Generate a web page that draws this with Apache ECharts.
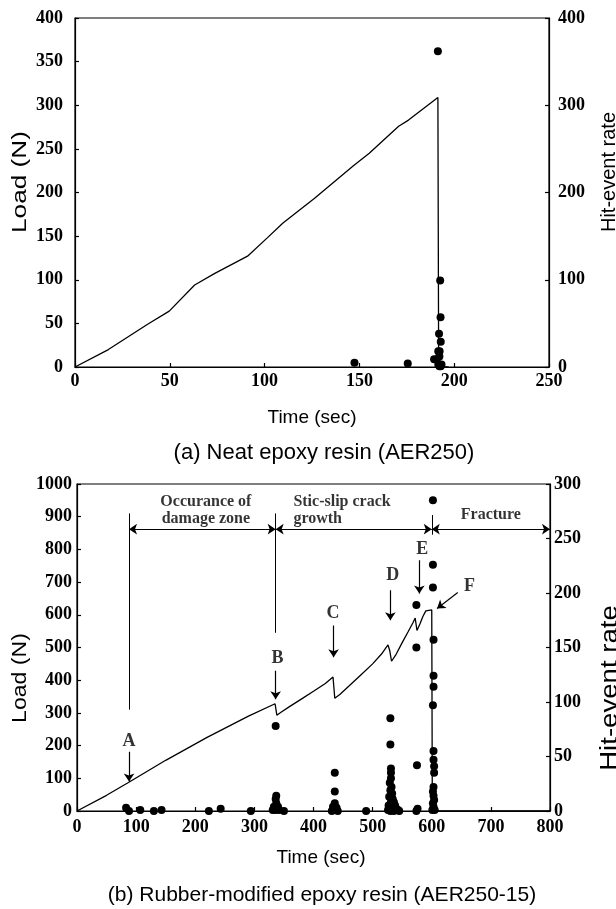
<!DOCTYPE html>
<html><head><meta charset="utf-8">
<script src="https://cdn.jsdelivr.net/npm/echarts@6/dist/echarts.min.js"></script>
<style>html,body{margin:0;padding:0;background:#fff}#c{width:616px;height:909px}</style>
</head><body><div id="c"></div>
<script>
// ---------- Data: (a) Neat epoxy resin (AER250) ----------
const timeA = [0, 17.6, 38.3, 49.7, 63.1, 73.5, 91, 101.4, 109.7, 126.2, 147, 155.2, 170.7, 175.9, 191.4, 191.8, 197];
const loadA = [0, 20, 49, 64, 94, 107, 127, 148, 165, 193, 231, 245, 276, 283, 309, 0, 0];
const hitTimeA = [147.4, 175.5, 189.4, 190.8, 191.4, 191.6, 192.3, 192.0, 192.6, 192.8, 192.9, 192.2, 193.3, 191.6, 192.9, 192.2];
const hitA     = [5, 4, 9, 9, 362, 18, 18, 38, 99, 57, 29, 12, 3, 3, 1, 1];

// ---------- Data: (b) Rubber-modified epoxy resin (AER250-15) ----------
const timeB = [0, 50, 87, 150, 220, 290, 335, 338, 345, 360, 380, 400, 420, 433, 436, 445, 460, 480, 500, 515, 526, 529, 532, 540, 550, 560, 568, 572, 575, 580, 585, 590, 600, 601, 800];
const loadB = [0, 48, 87, 155, 225, 290, 328, 293, 302, 320, 343, 366, 390, 410, 345, 357, 382, 416, 450, 480, 508, 490, 458, 480, 515, 548, 575, 590, 552, 572, 595, 612, 615, 0, 0];
const hitTimeB = [83, 88, 107, 130, 143, 223, 243, 294,
  336, 337, 336, 337, 333, 340, 331, 336, 342, 350,
  436, 436, 436, 433, 439, 436, 431, 441, 489,
  530, 530, 531, 531, 531, 529, 532, 530, 533, 528, 534, 531, 536, 527, 538, 533, 540, 526, 543, 530, 536, 545,
  574, 574, 575, 576, 574,
  602, 602, 602, 603, 603, 603, 602, 603, 603, 604, 604, 603, 602, 603, 604, 602, 603, 601, 605];
const hitB = [3, 0, 1, 0, 1, 0, 2, 0,
  78, 14, 11, 7, 4, 4, 1, 1, 1, 0,
  35, 18, 7, 4, 3, 1, 0, 0, 0,
  85, 61, 39, 35, 30, 26, 22, 19, 16, 13, 11, 8, 8, 5, 5, 3, 2, 1, 1, 0, 0, 0,
  189, 150, 42, 2, 0,
  285, 226, 205, 157, 124, 114, 97, 55, 47, 41, 35, 22, 18, 14, 10, 7, 4, 1, 1];

// Annotation content for (b), in data units (time, load)
const regionLabels = ['Occurance of\ndamage zone', 'Stic-slip crack\ngrowth', 'Fracture'];
const regionPos = [[218, 920], [366, 920], [700, 905]];
const pointLabels = ['A', 'B', 'C', 'D', 'E', 'F'];
const pointLabelPos = [[88, 212], [339, 467], [433, 603], [534, 721], [584, 799], [664, 687]];
const arrowSegs = [[[88,181],[88,90]], [[336,429],[336,342]], [[434,567],[434,470]], [[530,675],[530,583]], [[579,767],[579,665]], [[644,668],[609,619]]];
const separatorSegs = [[[88,310],[88,910]], [[336,545],[336,910]], [[600,845],[600,905]]];
const spanSegs = [[[88,862],[336,862]], [[336,862],[600,862]], [[600,862],[800,862]]];

const zip = (a, b) => a.map((v, i) => [v, b[i]]);
const serif = '"Liberation Serif","Times New Roman",serif';
const sans = '"Liberation Sans",Arial,sans-serif';
const tickLbl = {fontFamily: serif, fontWeight: 'bold', fontSize: 18, color: '#000', formatter: v => String(v)};
const axLine = {show: true, lineStyle: {color: '#000', width: 1.2}};
const axTick = {show: true, inside: true, length: 4, lineStyle: {color: '#000', width: 1.2}};

function yAx(grid, max, interval, pos, margin) {
  return {type: 'value', gridIndex: grid, min: 0, max: max, interval: interval, position: pos,
    axisLine: axLine, axisTick: axTick, splitLine: {show: false},
    axisLabel: Object.assign({margin: margin}, tickLbl)};
}
function xAx(grid, max, interval, gap, margin, pad) {
  return {type: 'value', gridIndex: grid, min: 0, max: max, interval: interval,
    axisLine: axLine, axisTick: axTick, splitLine: {show: false},
    axisLabel: Object.assign({margin: margin}, tickLbl),
    name: 'Time (sec)', nameLocation: 'middle', nameGap: gap,
    nameTextStyle: {fontFamily: sans, fontSize: 19, color: '#000', padding: pad}};
}
function vText(text, x, y, size, stretch) {
  return {type: 'text', x: x, y: y, rotation: Math.PI / 2, scaleX: stretch, scaleY: 1,
    style: {text: text, font: size + 'px ' + sans, fill: '#000', align: 'center', verticalAlign: 'middle'}};
}

const chart = echarts.init(document.getElementById('c'), null, {renderer: 'canvas'});
const lineStyle = {color: '#000', width: 1.3};
chart.setOption({
  animation: false,
  backgroundColor: '#fff',
  grid: [
    {left: 75, width: 474, top: 18, height: 349, show: true, borderColor: '#000', borderWidth: 1.2, backgroundColor: 'transparent'},
    {left: 77, width: 473, top: 484, height: 327, show: true, borderColor: '#000', borderWidth: 1.2, backgroundColor: 'transparent'}
  ],
  xAxis: [xAx(0, 250, 50, 41, 5, [0, 0, 0, 0]), xAx(1, 800, 100, 37, 7, [0, 0, 0, 15])],
  yAxis: [yAx(0, 400, 50, 'left', 12), yAx(0, 400, 100, 'right', 9), yAx(1, 1000, 100, 'left', 5), yAx(1, 300, 50, 'right', 4)],
  graphic: [
    vText('Load (N)', 20, 182, 21, 1.25),
    vText('Hit-event rate', 609, 172, 20, 1.0),
    {type: 'text', x: 324, y: 453, style: {text: '(a) Neat epoxy resin (AER250)', font: '22px ' + sans, fill: '#000', align: 'center', verticalAlign: 'middle'}},
    vText('Load (N)', 20, 678, 21, 1.1),
    vText('Hit-event rate', 611, 688, 23, 1.2),
    {type: 'text', x: 322, y: 895, style: {text: '(b) Rubber-modified epoxy resin (AER250-15)', font: '21px ' + sans, fill: '#000', align: 'center', verticalAlign: 'middle'}}
  ],
  series: [
    {type: 'line', xAxisIndex: 0, yAxisIndex: 0, data: zip(timeA, loadA), symbol: 'none', lineStyle: lineStyle, z: 3},
    {type: 'scatter', xAxisIndex: 0, yAxisIndex: 1, data: zip(hitTimeA, hitA), symbolSize: 8, itemStyle: {color: '#000', opacity: 1}, z: 4},
    {type: 'line', xAxisIndex: 1, yAxisIndex: 2, data: zip(timeB, loadB), symbol: 'none', lineStyle: lineStyle, z: 3},
    {type: 'scatter', xAxisIndex: 1, yAxisIndex: 3, data: zip(hitTimeB, hitB), symbolSize: 8, itemStyle: {color: '#000', opacity: 1}, z: 4},
    {type: 'lines', coordinateSystem: 'cartesian2d', xAxisIndex: 1, yAxisIndex: 2, symbol: ['none', 'none'],
      lineStyle: {color: '#000', width: 1, opacity: 1}, data: separatorSegs.map(c => ({coords: c})), z: 3},
    {type: 'lines', coordinateSystem: 'cartesian2d', xAxisIndex: 1, yAxisIndex: 2, symbol: ['arrow', 'arrow'], symbolSize: 8,
      lineStyle: {color: '#000', width: 1, opacity: 1}, data: spanSegs.map(c => ({coords: c})), z: 3},
    {type: 'lines', coordinateSystem: 'cartesian2d', xAxisIndex: 1, yAxisIndex: 2, symbol: ['none', 'arrow'], symbolSize: 8,
      lineStyle: {color: '#000', width: 1.2, opacity: 1}, data: arrowSegs.map(c => ({coords: c})), z: 3},
    {type: 'scatter', xAxisIndex: 1, yAxisIndex: 2, symbolSize: 1, itemStyle: {color: 'rgba(0,0,0,0)'}, silent: true, z: 5,
      label: {show: true, position: 'inside', formatter: p => p.name, fontFamily: serif, fontWeight: 'bold', fontSize: 18, color: '#000'},
      data: pointLabels.map((n, i) => ({name: n, value: pointLabelPos[i]}))},
    {type: 'scatter', xAxisIndex: 1, yAxisIndex: 2, symbolSize: 1, itemStyle: {color: 'rgba(0,0,0,0)'}, silent: true, z: 5,
      label: {show: true, position: 'inside', formatter: p => p.name, fontFamily: serif, fontWeight: 'bold', fontSize: 16, lineHeight: 17, color: '#000'},
      data: regionLabels.map((n, i) => ({name: n, value: regionPos[i], label: i === 1 ? {align: 'left'} : {}}))}
  ]
});
</script></body></html>
